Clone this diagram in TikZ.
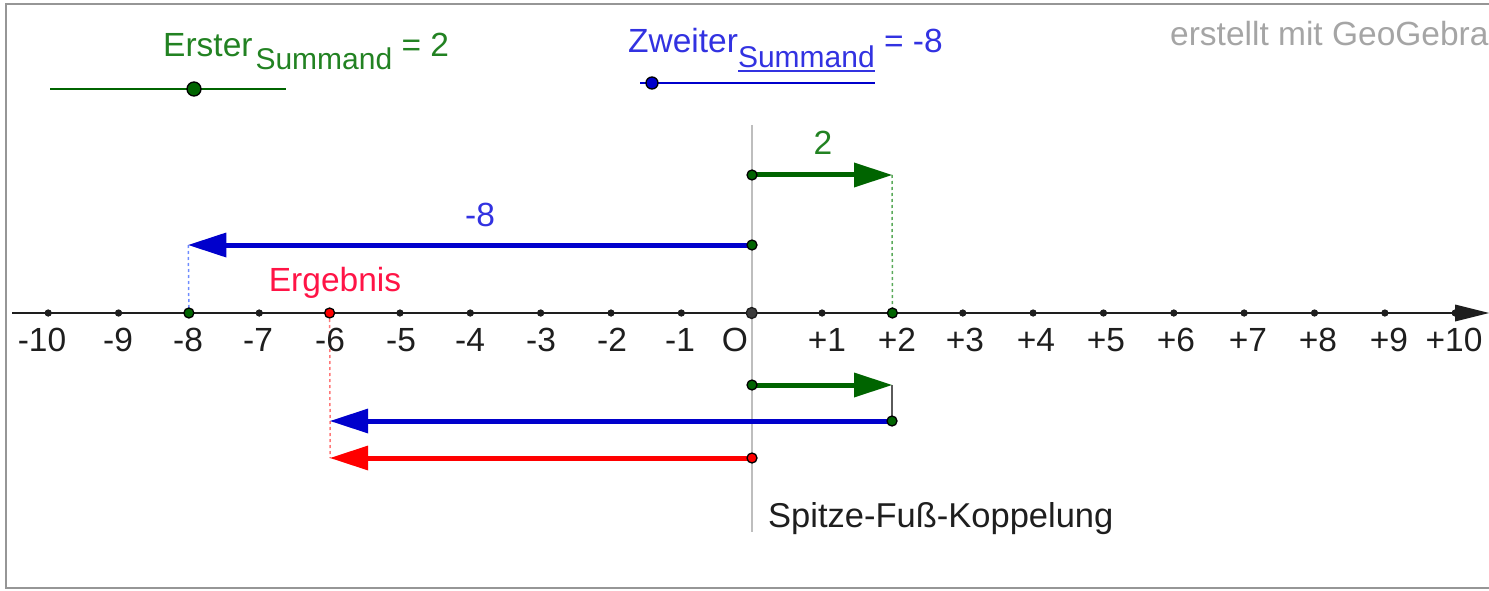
\documentclass[tikz,border=0pt]{standalone}
\usepackage{fontspec}
\setmainfont{Liberation Sans}
\usetikzlibrary{arrows.meta}
\definecolor{ggreen}{RGB}{0,100,0}
\definecolor{tgreen}{RGB}{34,130,34}
\definecolor{gblue}{RGB}{0,0,204}
\definecolor{tblue}{RGB}{50,50,225}
\definecolor{gred}{RGB}{255,0,0}
\definecolor{tred}{RGB}{255,20,70}
\definecolor{axisc}{RGB}{30,30,30}
\definecolor{framec}{RGB}{150,150,150}
\definecolor{zeroc}{RGB}{190,190,190}
\definecolor{wmark}{RGB}{165,165,165}
\definecolor{dgreen}{RGB}{90,170,90}
\definecolor{dblue}{RGB}{110,140,255}
\definecolor{dred}{RGB}{255,120,120}
\definecolor{zerodot}{RGB}{60,60,60}
\definecolor{thinl}{RGB}{90,90,90}
\begin{document}
\begin{tikzpicture}[x=1pt,y=-1pt,
  lab/.style={font=\fontsize{33.5}{36}\selectfont, inner sep=0pt},
  pt/.style={circle,fill=#1,draw=black,line width=1.3pt,inner sep=0pt,minimum size=10pt},
  tk/.style={circle,fill=axisc,inner sep=0pt,minimum size=7pt},
  vec/.style={line width=5pt,color=#1,-{Triangle[length=38pt,width=25pt,line width=0pt]}},
  dotl/.style={line width=1.5pt,draw=#1,dash pattern=on 3pt off 3pt}]
\clip (0,0) rectangle (1489,591);
\useasboundingbox (0,0) rectangle (1489,591);
% frame
\draw[framec,line width=2pt] (1495,4) -- (6,4) -- (6,588) -- (1495,588);
% vertical gray line
\coordinate (vt) at (752,125);
\coordinate (vb) at (752,532);
\draw[zeroc,line width=1.5pt] (vt) -- (vb);
% key coordinates
\coordinate (A1) at (752,175);  \coordinate (A2) at (892,175);
\coordinate (B1) at (752,245);  \coordinate (B2) at (188.3,245);
\coordinate (C1) at (752,385);  \coordinate (C2) at (892,385);
\coordinate (D1) at (892,421);  \coordinate (D2) at (330.2,421);
\coordinate (E1) at (752,458);  \coordinate (E2) at (330.2,458);
% axis ticks
\foreach \k in {-10,...,10}
  \node[tk] (t\k) at ({751.7+70.35*\k},313) {};
% dotted guides
\draw[dotl=dgreen] (A2) -- (t2.center);
\draw[dotl=dblue] (B2) -- (t-8.center);
\draw[dotl=dred] (t-6.center) -- (E2);
% axis
\coordinate (axL) at (12,313);
\coordinate (axR) at (1489,313);
\draw[line width=2.5pt,color=axisc,-{Triangle[length=34pt,width=17pt,line width=0pt]}] (axL) -- (axR);
\foreach \k in {-10,...,10}
  \node[tk] at (t\k) {};
% special points on axis
\node[pt=ggreen] at (t-8) {};
\node[pt=gred] at (t-6) {};
\node[pt=ggreen] at (t2) {};
\node[pt=zerodot,minimum size=11pt,draw=axisc] at (t0) {};
% axis labels
\foreach \x/\t in {42/-10,118/-9,188/-8,258/-7,330/-6,401/-5,470/-4,541/-3,612/-2,680/-1,735/O,827/+1,897/+2,965/+3,1036/+4,1106/+5,1176/+6,1248/+7,1318/+8,1389/+9,1454/+10}
  \node[lab,text=axisc,anchor=base] at (\x,351) {\t};
% vectors
\draw[vec=ggreen] (A1) -- (A2);
\draw[vec=gblue] (B1) -- (B2);
\draw[vec=ggreen] (C1) -- (C2);
\draw[thinl,line width=1.5pt] (C2) -- (D1);
\draw[vec=gblue] (D1) -- (D2);
\draw[vec=gred] (E1) -- (E2);
\node[pt=ggreen] at (A1) {};
\node[pt=ggreen] at (B1) {};
\node[pt=ggreen] at (C1) {};
\node[pt=ggreen] at (D1) {};
\node[pt=gred] at (E1) {};
% vector labels
\node[lab,text=tgreen,anchor=base] (l2) at (823,154) {2};
\node[lab,text=tblue,anchor=base] (l8) at (480,226) {-8};
\node[lab,text=tred,anchor=base] (erg) at (335,291) {Ergebnis};
\node[lab,text=axisc,anchor=base west,font=\fontsize{34.5}{36}\selectfont] (spf) at (768,527) {Spitze-Fuß-Koppelung};
% sliders
\coordinate (s1a) at (50,89);  \coordinate (s1b) at (286,89);
\draw[ggreen,line width=2pt] (s1a) -- (s1b);
\node[pt=ggreen,minimum size=14pt] (s1) at (194,89) {};
\coordinate (s2a) at (640,83);  \coordinate (s2b) at (875,83);
\draw[gblue,line width=2pt] (s2a) -- (s2b);
\node[pt=gblue,minimum size=12pt] (s2) at (652,83) {};
\node[lab,text=tgreen,anchor=base west] (n1) at (163,57)
  {Erster\kern3pt\raisebox{-13pt}{\fontsize{30}{32}\selectfont Summand} = 2};
\node[lab,text=tblue,anchor=base west] (n2) at (628,53)
  {Zweiter\raisebox{-15pt}{\fontsize{30}{32}\selectfont Summand} = -8};
\coordinate (u1) at (738,71); \coordinate (u2) at (875,71);
\draw[tblue,line width=1.2pt] (u1) -- (u2);
% watermark
\node[font=\fontsize{33.5}{36}\selectfont,text=wmark,inner sep=0pt,anchor=base west] (wm) at (1170,46) {erstellt mit GeoGebra};
\end{tikzpicture}
\end{document}
